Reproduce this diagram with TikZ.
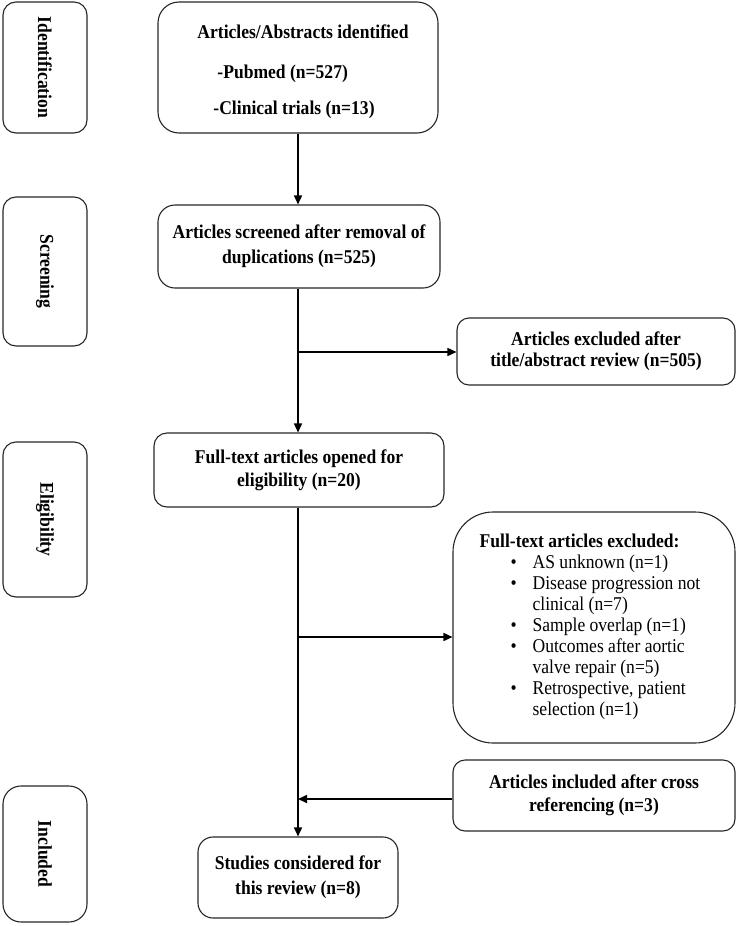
\documentclass[tikz,border=0pt]{standalone}
\usepackage{fontspec}
\setmainfont[FakeStretch=0.9]{Liberation Serif}
\usetikzlibrary{arrows.meta,calc}
\begin{document}
\begin{tikzpicture}[x=1bp,y=-1bp,
  box/.style={draw=black!85,line width=1.1bp,rectangle,inner sep=0pt,align=center,
    font=\fontsize{19.5bp}{23bp}\selectfont\bfseries},
  sidebox/.style={box,rotate=-90,minimum height=84bp,rounded corners=13bp},
  link/.style={line width=1.6bp,black},
  arrow/.style={link,-{Triangle[length=9bp,width=8bp]}}]
\useasboundingbox (0,0) rectangle (737,926);
% side stage labels
\node[sidebox,minimum width=131bp] (sideI) at (45,67.5) {Identification};
\node[sidebox,minimum width=149bp] (sideS) at (45,271.5) {Screening};
\node[sidebox,minimum width=155bp] (sideE) at (45,519.5) {Eligibility};
\node[sidebox,minimum width=136bp,rounded corners=18bp] (sideN) at (45,854) {Included};
% main boxes
\node[box,minimum width=280bp,minimum height=131bp,rounded corners=21bp] (ident) at (298,67.5)
  {\hspace*{10bp}\begin{tabular}{@{}l@{}}\multicolumn{1}{@{}c@{}}{\rule{0pt}{24bp}Articles/Abstracts identified}\\[17bp]
   \hspace*{20bp}-Pubmed (n=527)\\[13bp]
   \hspace*{16bp}-Clinical trials (n=13)\end{tabular}};
\node[box,minimum width=282bp,minimum height=83bp,rounded corners=17bp,
  font=\fontsize{19.5bp}{25bp}\selectfont\bfseries] (screen) at (299,246.5)
  {Articles screened after removal of\\duplications (n=525)};
\node[box,minimum width=278bp,minimum height=67bp,rounded corners=12bp,
  font=\fontsize{19.5bp}{21bp}\selectfont\bfseries] (excl1) at (596,351.5)
  {Articles excluded after\\title/abstract review (n=505)};
\node[box,minimum width=290bp,minimum height=74bp,rounded corners=13bp] (full) at (299,470)
  {Full-text articles opened for\\eligibility (n=20)};
\node[box,minimum width=282bp,minimum height=231bp,rounded corners=40bp,
  font=\fontsize{19.5bp}{21bp}\selectfont] (excl2) at (594,627.5)
  {\begin{tabular}{@{}l@{}}
   \textbf{Full-text articles excluded:}\\
   \hspace*{31bp}\makebox[22bp][l]{\textbullet}AS unknown (n=1)\\
   \hspace*{31bp}\makebox[22bp][l]{\textbullet}Disease progression not\\
   \hspace*{53bp}clinical (n=7)\\
   \hspace*{31bp}\makebox[22bp][l]{\textbullet}Sample overlap (n=1)\\
   \hspace*{31bp}\makebox[22bp][l]{\textbullet}Outcomes after aortic\\
   \hspace*{53bp}valve repair (n=5)\\
   \hspace*{31bp}\makebox[22bp][l]{\textbullet}Retrospective, patient\\
   \hspace*{53bp}selection (n=1)
   \end{tabular}\hspace*{8bp}};
\node[box,minimum width=282bp,minimum height=71bp,rounded corners=12bp] (cross) at (594,795.5)
  {Articles included after cross\\referencing (n=3)};
\node[box,minimum width=200bp,minimum height=81bp,rounded corners=15bp,
  font=\fontsize{19.5bp}{25bp}\selectfont\bfseries] (final) at (298,877.5)
  {Studies considered for\\this review (n=8)};
% connectors
\coordinate (j1) at (298,352);
\coordinate (j2) at (298,637);
\coordinate (j3) at (298,799);
\draw[arrow] (ident.south -| j1) -- (screen.north -| j1);
\draw[arrow] (screen.south -| j1) -- (full.north -| j1);
\draw[arrow] (j1) -- (j1 -| excl1.west);
\draw[arrow] (full.south -| j2) -- (final.north -| j2);
\draw[arrow] (j2) -- (j2 -| excl2.west);
\draw[arrow] (j3 -| cross.west) -- (j3);
\end{tikzpicture}
\end{document}
